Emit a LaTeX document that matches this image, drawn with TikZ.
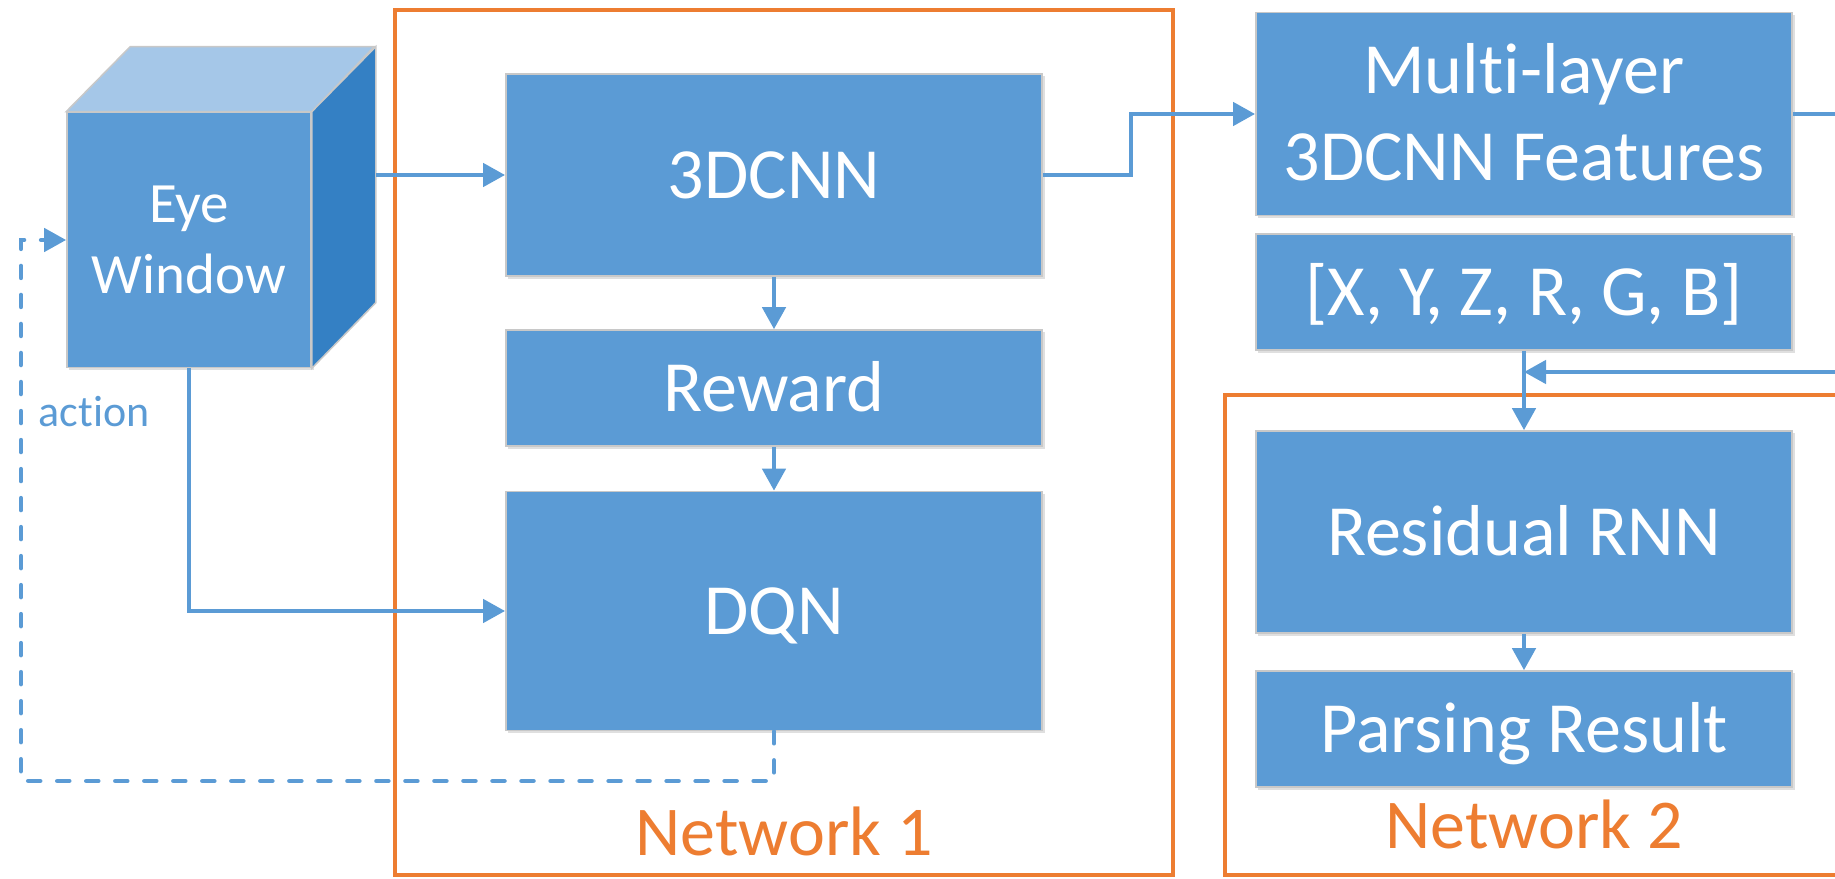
\documentclass[tikz,border=0pt]{standalone}
\usepackage{fontspec}
\setmainfont[Ligatures=CommonOff]{Carlito}
\usetikzlibrary{arrows.meta,calc,shadows}

\definecolor{boxblue}{HTML}{5B9BD5}
\definecolor{cubetop}{HTML}{A5C7E8}
\definecolor{cubeside}{HTML}{3480C4}
\definecolor{netorange}{HTML}{ED7D31}
\definecolor{edgegray}{HTML}{C8C8C8}

\tikzset{
	block/.style={fill=boxblue, draw=edgegray, line width=0.015cm, text=white,
		inner sep=0pt, align=center, minimum width=5.36cm,
		font=\fontsize{20.5}{24.8}\selectfont, text height=13.2pt, text depth=0pt,
		drop shadow={shadow xshift=0.025cm, shadow yshift=-0.025cm, opacity=0.25}},
	link/.style={draw=boxblue, line width=0.045cm, ->},
	feedback/.style={link, dash pattern=on 0.12cm off 0.17cm, line cap=round},
	group/.style={draw=netorange, line width=0.04cm},
	grouplabel/.style={text=netorange, anchor=base, inner sep=0pt,
		font=\fontsize{19.9}{24}\selectfont},
}

\begin{document}
\begin{tikzpicture}[x=0.01cm,y=-0.01cm,>={Triangle[length=0.22cm,width=0.23cm]}]
	\useasboundingbox (0,0) rectangle (1835,879);
	\clip (0,0) rectangle (1835,879);
	
	% Draw the two network frames
	\draw[group] (395,10) rectangle (1173,875);
	\draw[group] (1225,395) rectangle (1900,875);
	\node[grouplabel] (net1) at (784,855) {Network 1};
	\node[grouplabel] (net2) at (1534,848) {Network 2};
	
	% Draw the eye window cube
	\node[block, minimum width=2.44cm, minimum height=2.55cm,
		font=\fontsize{16.2}{20.2}\selectfont, text height=30.6pt] (eye) at (189,240) {Eye\\Window};
	\filldraw[fill=cubetop, draw=edgegray, line width=0.015cm]
		(eye.north west) -- ++(64,-65) -- ++(244,0) -- (eye.north east) -- cycle;
	\filldraw[fill=cubeside, draw=edgegray, line width=0.015cm]
		(eye.north east) -- ++(64,-65) -- ++(0,256) -- (eye.south east) -- cycle;
	
	% Draw the blocks of network 1
	\node[block, minimum height=2.02cm] (cnn) at (774,175) {3DCNN};
	\node[block, minimum height=1.16cm] (reward) at (774,388) {Reward};
	\node[block, minimum height=2.39cm] (dqn) at (774,611) {DQN};
	
	% Draw the feature blocks and network 2
	\node[block, minimum height=2.03cm, text height=38pt] (feat) at (1524,114) {Multi-layer\\3DCNN Features};
	\node[block, minimum height=1.16cm] (xyz) at (1524,292) {[X, Y, Z, R, G, B]};
	\node[block, minimum height=2.02cm] (rnn) at (1524,532) {Residual RNN};
	\node[block, minimum height=1.16cm] (parse) at (1524,729) {Parsing Result};
	
	% Draw the connections
	\coordinate (featout) at (1840,114);
	\coordinate (loopin) at (1840,372);
	\coordinate (actcorner) at (21,781);
	\draw[link] ($(eye.east)+(64,-65)$) -- (cnn.west);
	\draw[link] (cnn.south) -- (reward.north);
	\draw[link] (reward.south) -- (dqn.north);
	\draw[link] (eye.south) |- (dqn.west);
	\draw[link] (cnn.east) -- ++(88,0) |- (feat.west);
	\draw[link,-] (feat.east) -- (featout);
	\draw[link] (loopin) -- (xyz.south |- loopin);
	\draw[link] (xyz.south) -- (rnn.north);
	\draw[link] (rnn.south) -- (parse.north);
	
	% Draw the action feedback
	\draw[feedback] (dqn.south) |- (actcorner) |- (eye.west);
	\node[text=boxblue, anchor=base west, inner sep=0pt,
		font=\fontsize{12.5}{15}\selectfont] (actlabel) at (38,427) {action};
	
\end{tikzpicture}
\end{document}
